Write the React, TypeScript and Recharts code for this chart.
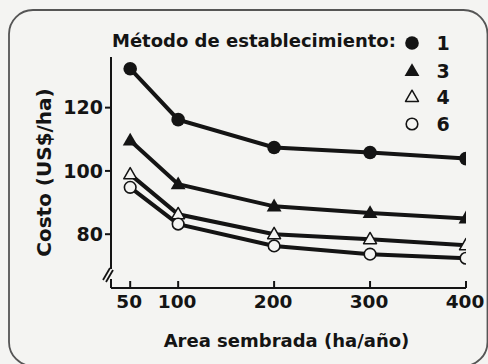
import React from 'react';
import { LineChart, Line, XAxis, YAxis, Legend } from 'recharts';

// Área sembrada (ha/año)
const areas = [50, 100, 200, 300, 400];
// Costo (US$/ha) por método de establecimiento
const metodo1 = [132.3, 116.2, 107.4, 105.8, 103.9];
const metodo3 = [109.6, 95.8, 88.8, 86.7, 85.0];
const metodo4 = [98.9, 86.3, 80.0, 78.4, 76.5];
const metodo6 = [94.8, 83.2, 76.3, 73.7, 72.4];

const xTicks = [50, 100, 200, 300, 400];
const yTicks = [80, 100, 120];

const INK = '#141414';
const BG = '#f4f4f2';
const FONT = '"DejaVu Sans", "Liberation Sans", sans-serif';

type Shape = 'circle' | 'triangle' | 'triangleOpen' | 'circleOpen';

const series: { key: string; name: string; values: number[]; shape: Shape }[] = [
  { key: 'm1', name: '1', values: metodo1, shape: 'circle' },
  { key: 'm3', name: '3', values: metodo3, shape: 'triangle' },
  { key: 'm4', name: '4', values: metodo4, shape: 'triangleOpen' },
  { key: 'm6', name: '6', values: metodo6, shape: 'circleOpen' },
];

const data = areas.map((area, i) => {
  const row: Record<string, number> = { area };
  series.forEach((s) => {
    row[s.key] = s.values[i];
  });
  return row;
});

const W = 488;
const H = 364;
const Y_AXIS_W = 60;
const X_AXIS_H = 30;
const margin = { top: 57, right: 22, bottom: 76 - X_AXIS_H, left: 111 - Y_AXIS_W };

function Marker({ shape, cx, cy }: { shape: Shape; cx: number; cy: number }) {
  if (shape === 'circle') return <circle cx={cx} cy={cy} r={6.8} fill={INK} />;
  if (shape === 'circleOpen')
    return <circle cx={cx} cy={cy} r={5.8} fill={BG} stroke={INK} strokeWidth={1.6} />;
  const open = shape === 'triangleOpen';
  const s = open ? 6.8 : 7.8;
  const pts = `${cx},${cy - s} ${cx + s * 0.95},${cy + s * 0.65} ${cx - s * 0.95},${cy + s * 0.65}`;
  return open ? (
    <polygon points={pts} fill={BG} stroke={INK} strokeWidth={1.5} strokeLinejoin="round" />
  ) : (
    <polygon points={pts} fill={INK} />
  );
}

const legendRows = [15, 43, 69, 96];

const renderLegend = () => (
  <svg width={370} height={112} style={{ overflow: 'visible' }}>
    <text x={0} y={19} fontSize={18} fontWeight={700} fontFamily={FONT} fill={INK}>
      Método de establecimiento:
    </text>
    {series.map((s, i) => (
      <g key={s.key}>
        <Marker shape={s.shape} cx={300} cy={legendRows[i]} />
        <text
          x={331}
          y={legendRows[i] + 7}
          textAnchor="middle"
          fontSize={19}
          fontWeight={700}
          fontFamily={FONT}
          fill={INK}
        >
          {s.name}
        </text>
      </g>
    ))}
  </svg>
);

const XTick = (props: any) => {
  const { x, y, payload } = props;
  return (
    <g>
      <line x1={x} y1={y} x2={x} y2={y - 7} stroke={INK} strokeWidth={2} />
      <text
        x={x - 1}
        y={y + 20}
        textAnchor="middle"
        fontSize={18.5}
        fontWeight={700}
        fontFamily={FONT}
        fill={INK}
      >
        {payload.value}
      </text>
    </g>
  );
};

export default function App() {
  return (
    <div style={{ position: 'relative', width: W, height: H, background: BG, overflow: 'hidden' }}>
      <style>{'body{margin:0}'}</style>
      <LineChart width={W} height={H} data={data} margin={margin}>
        <XAxis
          dataKey="area"
          type="number"
          domain={[30, 400]}
          ticks={xTicks}
          allowDataOverflow
          height={X_AXIS_H}
          tickSize={0}
          tickMargin={0}
          tickLine={false}
          tick={<XTick />}
          axisLine={{ stroke: INK, strokeWidth: 2 }}
          label={{
            content: (p: any) => (
              <text
                x={p.viewBox.x + p.viewBox.width / 2 - 2}
                y={p.viewBox.y + 59}
                textAnchor="middle"
                fontSize={18}
                fontWeight={700}
                fontFamily={FONT}
                fill={INK}
              >
                Area sembrada (ha/año)
              </text>
            ),
          }}
        />
        <YAxis
          type="number"
          domain={[63, 136]}
          ticks={yTicks}
          allowDataOverflow
          width={Y_AXIS_W}
          tickSize={6}
          tickMargin={2}
          tickLine={{ stroke: INK, strokeWidth: 2 }}
          axisLine={{ stroke: INK, strokeWidth: 2 }}
          tick={{ fill: INK, fontSize: 19, fontWeight: 700, fontFamily: FONT }}
          label={{
            content: (p: any) => {
              const cx = 51;
              const cy = p.viewBox.y + p.viewBox.height / 2;
              return (
                <text
                  x={cx}
                  y={cy}
                  transform={`rotate(-90 ${cx} ${cy})`}
                  textAnchor="middle"
                  fontSize={20}
                  fontWeight={700}
                  fontFamily={FONT}
                  fill={INK}
                >
                  Costo (US$/ha)
                </text>
              );
            },
          }}
        />
        <Legend
          layout="horizontal"
          verticalAlign="middle"
          align="center"
          content={renderLegend}
          wrapperStyle={{ position: 'absolute', top: 28, left: 112, width: 370, height: 112 }}
        />
        {series.map((s) => (
          <Line
            key={s.key}
            dataKey={s.key}
            name={s.name}
            type="linear"
            stroke={INK}
            strokeWidth={4}
            isAnimationActive={false}
            dot={(p: any) => (
              <Marker key={`${s.key}-${p.index}`} shape={s.shape} cx={p.cx} cy={p.cy} />
            )}
            activeDot={false}
          />
        ))}
      </LineChart>
      <svg
        width={W}
        height={H}
        style={{ position: 'absolute', left: 0, top: 0, pointerEvents: 'none' }}
      >
        {/* corte del eje Y */}
        <rect x={105} y={269} width={12} height={10} fill={BG} />
        <line x1={103} y1={280} x2={110} y2={268} stroke={INK} strokeWidth={1.8} />
        <line x1={106} y1={282} x2={113} y2={270} stroke={INK} strokeWidth={1.8} />
        {/* marco */}
        <rect x={9} y={10} width={478.5} height={356} rx={24} fill="none" stroke="#555" strokeWidth={1.8} />
      </svg>
    </div>
  );
}
